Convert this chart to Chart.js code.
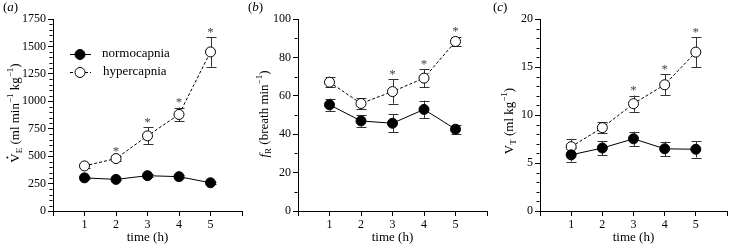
<!DOCTYPE html>
<html><head><meta charset="utf-8">
<script src="https://cdn.jsdelivr.net/npm/chart.js@4/dist/chart.umd.min.js"></script>
<style>
html,body{margin:0;padding:0;background:#fff;}
#wrap{position:relative;width:733px;height:245px;overflow:hidden;}
canvas{position:absolute;top:0;}
</style></head>
<body>
<div id="wrap">
<canvas id="ca" width="248" height="245" style="left:0px"></canvas>
<canvas id="cb" width="248" height="245" style="left:245px"></canvas>
<canvas id="cc" width="243" height="245" style="left:490px"></canvas>
</div>
<script>
// ---------- data ----------
const times = [1, 2, 3, 4, 5];
const seriesLabels = ['normocapnia', 'hypercapnia'];

const veNormo   = [302, 288, 322, 313, 257];
const veNormoSE = [10, 10, 12, 12, 10];
const veHyper   = [411, 478, 685, 880, 1450];
const veHyperSE = [15, 20, 78, 63, 135];
const veSig     = [false, true, true, true, true];

const frNormo   = [55.3, 46.9, 45.7, 52.9, 42.6];
const frNormoSE = [3.2, 2.9, 4.6, 4.6, 2.4];
const frHyper   = [67.1, 56.0, 62.2, 69.2, 88.3];
const frHyperSE = [2.7, 2.7, 6.3, 4.7, 2.5];
const frSig     = [false, false, true, true, true];

const vtNormo   = [5.85, 6.56, 7.52, 6.48, 6.43];
const vtNormoSE = [0.7, 0.74, 0.74, 0.75, 0.86];
const vtHyper   = [6.7, 8.68, 11.18, 13.15, 16.55];
const vtHyperSE = [0.75, 0.55, 0.85, 1.1, 1.55];
const vtSig     = [false, false, true, true, true];

const veTicks = {min: 0, max: 1750, major: 250, minor: 50};
const frTicks = {min: 0, max: 100, major: 20, minor: 10};
const vtTicks = {min: 0, max: 20, major: 5, minor: 1};

const SERIF = 'Liberation Serif';
Chart.defaults.font.family = SERIF;
Chart.defaults.font.size = 12;
Chart.defaults.color = '#000';

// rich text helper (rotated y-axis titles with sub/superscripts)
function drawRich(ctx, parts, cx, cy, size) {
  const sub = Math.round(size * 0.7);
  let total = 0;
  parts.forEach(p => {
    const fs = (p.sub || p.sup) ? sub : size;
    ctx.font = (p.italic ? 'italic ' : '') + fs + 'px ' + SERIF;
    p.w = ctx.measureText(p.t).width;
    total += p.w;
  });
  ctx.save();
  ctx.translate(cx, cy);
  ctx.rotate(-Math.PI / 2);
  ctx.fillStyle = '#000';
  ctx.textBaseline = 'alphabetic';
  let x = -total / 2;
  const base = size * 0.35;
  parts.forEach(p => {
    const fs = (p.sub || p.sup) ? sub : size;
    ctx.font = (p.italic ? 'italic ' : '') + fs + 'px ' + SERIF;
    let y = base;
    if (p.sub) y += size * 0.3;
    if (p.sup) y -= size * 0.42;
    ctx.fillText(p.t, x, y);
    if (p.dot) {
      ctx.beginPath();
      ctx.arc(x + p.w / 2 + 0.5, y - size * 0.86, 1.0, 0, Math.PI * 2);
      ctx.fill();
    }
    x += p.w;
  });
  ctx.restore();
}

function makePanel(id, opts) {
  const ctx = document.getElementById(id).getContext('2d');
  const mkPts = arr => times.map((t, i) => ({x: t, y: arr[i]}));
  const decor = {
    id: 'decor' + id,
    beforeDatasetsDraw(chart) {
      const c = chart.ctx, xs = chart.scales.x, ys = chart.scales.y;
      c.save();
      c.strokeStyle = '#333';
      c.lineWidth = 1;
      [[opts.normo, opts.normoSE], [opts.hyper, opts.hyperSE]].forEach(([v, se]) => {
        v.forEach((val, i) => {
          const px = Math.round(xs.getPixelForValue(times[i])) + 0.5;
          const top = ys.getPixelForValue(val + se[i]);
          const bot = ys.getPixelForValue(val - se[i]);
          c.beginPath();
          c.moveTo(px, top); c.lineTo(px, bot);
          c.moveTo(px - 5, Math.round(top) + 0.5); c.lineTo(px + 5, Math.round(top) + 0.5);
          c.moveTo(px - 5, Math.round(bot) + 0.5); c.lineTo(px + 5, Math.round(bot) + 0.5);
          c.stroke();
        });
      });
      c.restore();
    },
    afterDraw(chart) {
      const c = chart.ctx, xs = chart.scales.x, ys = chart.scales.y;
      c.save();
      // minor ticks
      c.strokeStyle = '#000';
      c.lineWidth = 1;
      const t = opts.ticks;
      const ax = Math.round(chart.chartArea.left) - 0.5;
      for (let v = t.min; v <= t.max + 1e-9; v += t.minor) {
        if (Math.abs(v / t.major - Math.round(v / t.major)) < 1e-6) continue;
        const py = Math.round(ys.getPixelForValue(v)) + 0.5;
        c.beginPath(); c.moveTo(ax, py); c.lineTo(ax - 3, py); c.stroke();
      }
      // asterisks
      c.fillStyle = '#444';
      c.font = '13px ' + SERIF;
      c.textAlign = 'center';
      c.textBaseline = 'middle';
      opts.sig.forEach((s, i) => {
        if (!s) return;
        const px = xs.getPixelForValue(times[i]);
        const py = ys.getPixelForValue(opts.hyper[i] + opts.hyperSE[i]) - 8;
        c.fillText('*', px, py + 3);
      });
      // panel letter
      c.fillStyle = '#000';
      c.textAlign = 'left';
      c.textBaseline = 'middle';
      c.font = '13px ' + SERIF;
      let lx = 3;
      c.fillText('(', lx, 8); lx += c.measureText('(').width;
      c.font = 'italic 13px ' + SERIF;
      c.fillText(opts.letter, lx, 8); lx += c.measureText(opts.letter).width;
      c.font = '13px ' + SERIF;
      c.fillText(')', lx, 8);
      // y title
      drawRich(c, opts.title, opts.titleX, opts.titleY, 13);
      // legend
      if (opts.legend) {
        const lxs = 70, lxe = 91, cxm = 80;
        const rows = [{y: 54, fill: true, dash: []}, {y: 72, fill: false, dash: [3, 2]}];
        rows.forEach((r, k) => {
          c.strokeStyle = '#000';
          c.lineWidth = 1;
          c.setLineDash(r.dash);
          c.beginPath(); c.moveTo(lxs, r.y + 0.5); c.lineTo(lxe, r.y + 0.5); c.stroke();
          c.setLineDash([]);
          c.beginPath(); c.arc(cxm, r.y + 0.5, 5, 0, Math.PI * 2);
          c.fillStyle = r.fill ? '#000' : '#fff';
          c.fill(); c.stroke();
          c.fillStyle = '#000';
          c.font = '13px ' + SERIF;
          c.textAlign = 'left';
          c.textBaseline = 'middle';
          c.fillText(seriesLabels[k], k === 0 ? 102 : 103, r.y);
        });
      }
      c.restore();
    }
  };
  const tickFont = {family: SERIF, size: 12, weight: 'normal', style: 'normal'};
  return new Chart(ctx, {
    type: 'line',
    data: {
      datasets: [
        {label: seriesLabels[0], data: mkPts(opts.normo), borderColor: '#000', borderWidth: 1,
         backgroundColor: '#000', pointBackgroundColor: '#000', pointBorderColor: '#000',
         pointRadius: 5, pointBorderWidth: 1, tension: 0},
        {label: seriesLabels[1], data: mkPts(opts.hyper), borderColor: '#000', borderWidth: 1,
         borderDash: [3, 2], pointBackgroundColor: '#fff', pointBorderColor: '#000',
         pointRadius: 5, pointBorderWidth: 1, tension: 0}
      ]
    },
    options: {
      responsive: false,
      animation: false,
      devicePixelRatio: 1,
      layout: {padding: {top: 19, right: opts.padRight, left: 0, bottom: 0}},
      plugins: {legend: {display: false}, tooltip: {enabled: false}},
      scales: {
        x: {
          type: 'linear', min: 0, max: 6,
          border: {display: true, color: '#000', width: 1},
          grid: {display: true, drawOnChartArea: false, drawTicks: true, tickLength: 5, color: '#000'},
          ticks: {stepSize: 1, color: '#000', padding: 2, font: tickFont,
                  maxRotation: 0, autoSkip: false,
                  callback: v => (v >= 1 && v <= 5) ? String(v) : ''},
          title: {display: true, text: 'time (h)', color: '#000',
                  font: {family: SERIF, size: 13, weight: 'normal'}, padding: 0},
          afterFit: s => { s.height = 34; }
        },
        y: {
          min: opts.ticks.min, max: opts.ticks.max,
          border: {display: true, color: '#000', width: 1},
          grid: {display: true, drawOnChartArea: false, drawTicks: true, tickLength: 5, color: '#000'},
          ticks: {stepSize: opts.ticks.major, color: '#000', padding: 2, font: tickFont,
                  callback: v => String(v)},
          afterFit: s => { s.width = opts.yWidth; }
        }
      }
    },
    plugins: [decor]
  });
}

makePanel('ca', {
  normo: veNormo, normoSE: veNormoSE, hyper: veHyper, hyperSE: veHyperSE, sig: veSig,
  ticks: veTicks, letter: 'a', yWidth: 53, padRight: 2, legend: true,
  titleX: 14, titleY: 113,
  title: [{t: 'V', dot: true}, {t: 'E', sub: true}, {t: ' (ml min'}, {t: '\u22121', sup: true},
          {t: ' kg'}, {t: '\u22121', sup: true}, {t: ')'}]
});
makePanel('cb', {
  normo: frNormo, normoSE: frNormoSE, hyper: frHyper, hyperSE: frHyperSE, sig: frSig,
  ticks: frTicks, letter: 'b', yWidth: 53, padRight: 1.5, legend: false,
  titleX: 18, titleY: 114,
  title: [{t: 'f', italic: true}, {t: 'R', sub: true}, {t: ' (breath min'}, {t: '\u22121', sup: true}, {t: ')'}]
});
makePanel('cc', {
  normo: vtNormo, normoSE: vtNormoSE, hyper: vtHyper, hyperSE: vtHyperSE, sig: vtSig,
  ticks: vtTicks, letter: 'c', yWidth: 50, padRight: 0, legend: false,
  titleX: 18, titleY: 121,
  title: [{t: 'V'}, {t: 'T', sub: true}, {t: ' (ml kg'}, {t: '\u22121', sup: true}, {t: ')'}]
});
</script>
</body></html>
